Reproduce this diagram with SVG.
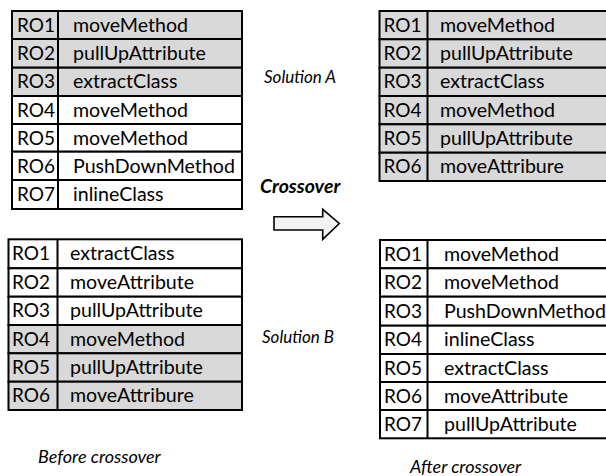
<svg xmlns="http://www.w3.org/2000/svg" width="606" height="476" viewBox="0 0 606 476">
  <style>
    .cell { stroke: #000; stroke-width: 2; }
    .sel { fill: #d9d9d9; }
    .plain { fill: #ffffff; }
    .t { font-family: Lato, "Liberation Sans", sans-serif; font-size: 19.6px; fill: #000; }
    .ro { font-family: Lato, "Liberation Sans", sans-serif; font-size: 19px; fill: #000; }
    .lbl { font-family: Lato, "Liberation Sans", sans-serif; font-size: 17px; font-style: italic; fill: #000; }
    .cap { font-family: Lato, "Liberation Sans", sans-serif; font-size: 18px; font-style: italic; fill: #000; }
    .title { font-family: Lato, "Liberation Sans", sans-serif; font-size: 19.5px; font-style: italic; font-weight: bold; fill: #000; }
  </style>
  <rect width="606" height="476" fill="#ffffff"/>

  <!-- Solution A (parent 1) -->
  <g id="solutionA">
    <rect class="cell sel" x="12" y="11" width="230" height="28"/>
    <rect class="cell sel" x="12" y="39" width="230" height="28.7"/>
    <rect class="cell sel" x="12" y="67.7" width="230" height="28.3"/>
    <rect class="cell plain" x="12" y="96" width="230" height="28"/>
    <rect class="cell plain" x="12" y="124" width="230" height="27.7"/>
    <rect class="cell plain" x="12" y="151.7" width="230" height="28.3"/>
    <rect class="cell plain" x="12" y="180" width="230" height="29"/>
    <line class="cell" x1="58" y1="11" x2="58" y2="209"/>
    <text class="ro" x="17" y="31.5">RO1</text><text class="t" x="73" y="31.5">moveMethod</text>
    <text class="ro" x="17" y="59.8">RO2</text><text class="t" x="73" y="59.8">pullUpAttribute</text>
    <text class="ro" x="17" y="88.2">RO3</text><text class="t" x="73" y="88.2">extractClass</text>
    <text class="ro" x="17" y="116.5">RO4</text><text class="t" x="73" y="116.5">moveMethod</text>
    <text class="ro" x="17" y="144.5">RO5</text><text class="t" x="73" y="144.5">moveMethod</text>
    <text class="ro" x="17" y="172.5">RO6</text><text class="t" x="73" y="172.5">PushDownMethod</text>
    <text class="ro" x="17" y="201">RO7</text><text class="t" x="73" y="201">inlineClass</text>
  </g>

  <!-- Solution B (parent 2) -->
  <g id="solutionB">
    <rect class="cell plain" x="8.5" y="239.3" width="233.5" height="29"/>
    <rect class="cell plain" x="8.5" y="268.3" width="233.5" height="28.4"/>
    <rect class="cell plain" x="8.5" y="296.7" width="233.5" height="28.3"/>
    <rect class="cell sel" x="8.5" y="325" width="233.5" height="28.3"/>
    <rect class="cell sel" x="8.5" y="353.3" width="233.5" height="28.4"/>
    <rect class="cell sel" x="8.5" y="381.7" width="233.5" height="28.3"/>
    <line class="cell" x1="57.5" y1="239.3" x2="57.5" y2="410"/>
    <text class="ro" x="12" y="260">RO1</text><text class="t" x="70" y="260">extractClass</text>
    <text class="ro" x="12" y="289">RO2</text><text class="t" x="70" y="289">moveAttribute</text>
    <text class="ro" x="12" y="317.3">RO3</text><text class="t" x="70" y="317.3">pullUpAttribute</text>
    <text class="ro" x="12" y="345.6">RO4</text><text class="t" x="70" y="345.6">moveMethod</text>
    <text class="ro" x="12" y="374">RO5</text><text class="t" x="70" y="374">pullUpAttribute</text>
    <text class="ro" x="12" y="402.3">RO6</text><text class="t" x="70" y="402.3">moveAttribure</text>
  </g>

  <!-- Offspring 1 -->
  <g id="offspring1">
    <rect class="cell sel" x="379.5" y="11" width="230" height="28.3"/>
    <rect class="cell sel" x="379.5" y="39.3" width="230" height="28.4"/>
    <rect class="cell sel" x="379.5" y="67.7" width="230" height="28.3"/>
    <rect class="cell sel" x="379.5" y="96" width="230" height="28.3"/>
    <rect class="cell sel" x="379.5" y="124.3" width="230" height="28.4"/>
    <rect class="cell sel" x="379.5" y="152.7" width="230" height="28.3"/>
    <line class="cell" x1="427.5" y1="11" x2="427.5" y2="181"/>
    <text class="ro" x="383.5" y="31.7">RO1</text><text class="t" x="440" y="31.7">moveMethod</text>
    <text class="ro" x="383.5" y="60">RO2</text><text class="t" x="440" y="60">pullUpAttribute</text>
    <text class="ro" x="383.5" y="88.4">RO3</text><text class="t" x="440" y="88.4">extractClass</text>
    <text class="ro" x="383.5" y="116.7">RO4</text><text class="t" x="440" y="116.7">moveMethod</text>
    <text class="ro" x="383.5" y="145">RO5</text><text class="t" x="440" y="145">pullUpAttribute</text>
    <text class="ro" x="383.5" y="173.4">RO6</text><text class="t" x="440" y="173.4">moveAttribure</text>
  </g>

  <!-- Offspring 2 -->
  <g id="offspring2">
    <rect class="cell plain" x="380" y="240" width="230" height="28.3"/>
    <rect class="cell plain" x="380" y="268.3" width="230" height="28.4"/>
    <rect class="cell plain" x="380" y="296.7" width="230" height="29"/>
    <rect class="cell plain" x="380" y="325.7" width="230" height="28.3"/>
    <rect class="cell plain" x="380" y="354" width="230" height="28"/>
    <rect class="cell plain" x="380" y="382" width="230" height="28"/>
    <rect class="cell plain" x="380" y="410" width="230" height="28.3"/>
    <line class="cell" x1="427.5" y1="240" x2="427.5" y2="438.3"/>
    <text class="ro" x="384" y="260.7">RO1</text><text class="t" x="444" y="260.7">moveMethod</text>
    <text class="ro" x="384" y="289">RO2</text><text class="t" x="444" y="289">moveMethod</text>
    <text class="ro" x="384" y="317.7">RO3</text><text class="t" x="444" y="317.7">PushDownMethod</text>
    <text class="ro" x="384" y="346.4">RO4</text><text class="t" x="444" y="346.4">inlineClass</text>
    <text class="ro" x="384" y="374.5">RO5</text><text class="t" x="444" y="374.5">extractClass</text>
    <text class="ro" x="384" y="402.5">RO6</text><text class="t" x="444" y="402.5">moveAttribute</text>
    <text class="ro" x="384" y="430.7">RO7</text><text class="t" x="444" y="430.7">pullUpAttribute</text>
  </g>

  <!-- Labels -->
  <g id="labels">
    <text class="lbl" x="264" y="83">Solution A</text>
    <text class="lbl" x="262" y="343">Solution B</text>
    <text class="title" x="260" y="193">Crossover</text>
    <text class="cap" x="38" y="463">Before crossover</text>
    <text class="cap" x="410" y="473">After crossover</text>
  </g>

  <!-- Crossover block arrow -->
  <g id="connectors">
    <path d="M274,216.7 H322.7 V209.3 L339.3,223.5 L322.7,239.3 V230 H274 Z" fill="#f2f2f2" stroke="#000" stroke-width="1.6" stroke-linejoin="miter"/>
  </g>
</svg>
